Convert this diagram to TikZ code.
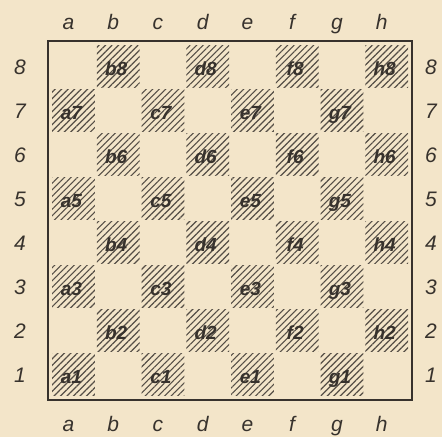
\documentclass[tikz,border=0pt]{standalone}
\usepackage{fontspec}
\setmainfont{Liberation Sans}
\usetikzlibrary{patterns.meta}
\definecolor{paper}{RGB}{243,229,201}
\definecolor{ink}{RGB}{55,50,45}
\definecolor{hatch}{RGB}{85,78,70}
\tikzset{
  hatchsq/.style={draw=none,pattern={Lines[angle=45,distance=4.6pt,line width=1.15pt]},pattern color=hatch},
  sqlabel/.style={inner sep=0pt,anchor=base,text=ink,font=\fontsize{19}{19}\selectfont\bfseries\itshape},
  edgelabel/.style={inner sep=0pt,anchor=base,text=ink,font=\fontsize{21}{21}\selectfont\itshape},
  frame/.style={draw=ink,line width=1.8pt}
}
\begin{document}
\begin{tikzpicture}[x=1pt,y=-1pt]
\fill[paper] (0,0) rectangle (442,437);
\useasboundingbox (0,0) rectangle (442,437);
\def\xo{51}\def\px{44.75}\def\yo{44}\def\py{44.1}
\foreach \f [count=\i from 0] in {a,b,c,d,e,f,g,h}{
  \foreach \r in {1,...,8}{
    \pgfmathtruncatemacro{\myparity}{mod(\i+\r,2)}
    \ifnum\myparity=1
      \path[hatchsq] ({\xo+\i*\px+1},{\yo+(8-\r)*\py+1}) rectangle ({\xo+(\i+1)*\px-1},{\yo+(9-\r)*\py-1});
      \node[sqlabel] (sq\f\r) at ({\xo+(\i+0.5)*\px-2},{\yo+(8.5-\r)*\py+9}) {\f\r};
    \fi
  }
  \node[edgelabel] (top\f) at ({\xo+(\i+0.5)*\px-5},29) {\f};
  \node[edgelabel] (bot\f) at ({\xo+(\i+0.5)*\px-5},431) {\f};
}
\foreach \r in {1,...,8}{
  \node[edgelabel] (left\r) at (20,{\yo+(8.5-\r)*\py+8}) {\r};
  \node[edgelabel] (right\r) at (431,{\yo+(8.5-\r)*\py+8}) {\r};
}
\draw[frame] (48,41) rectangle (412,400);
\end{tikzpicture}
\end{document}
